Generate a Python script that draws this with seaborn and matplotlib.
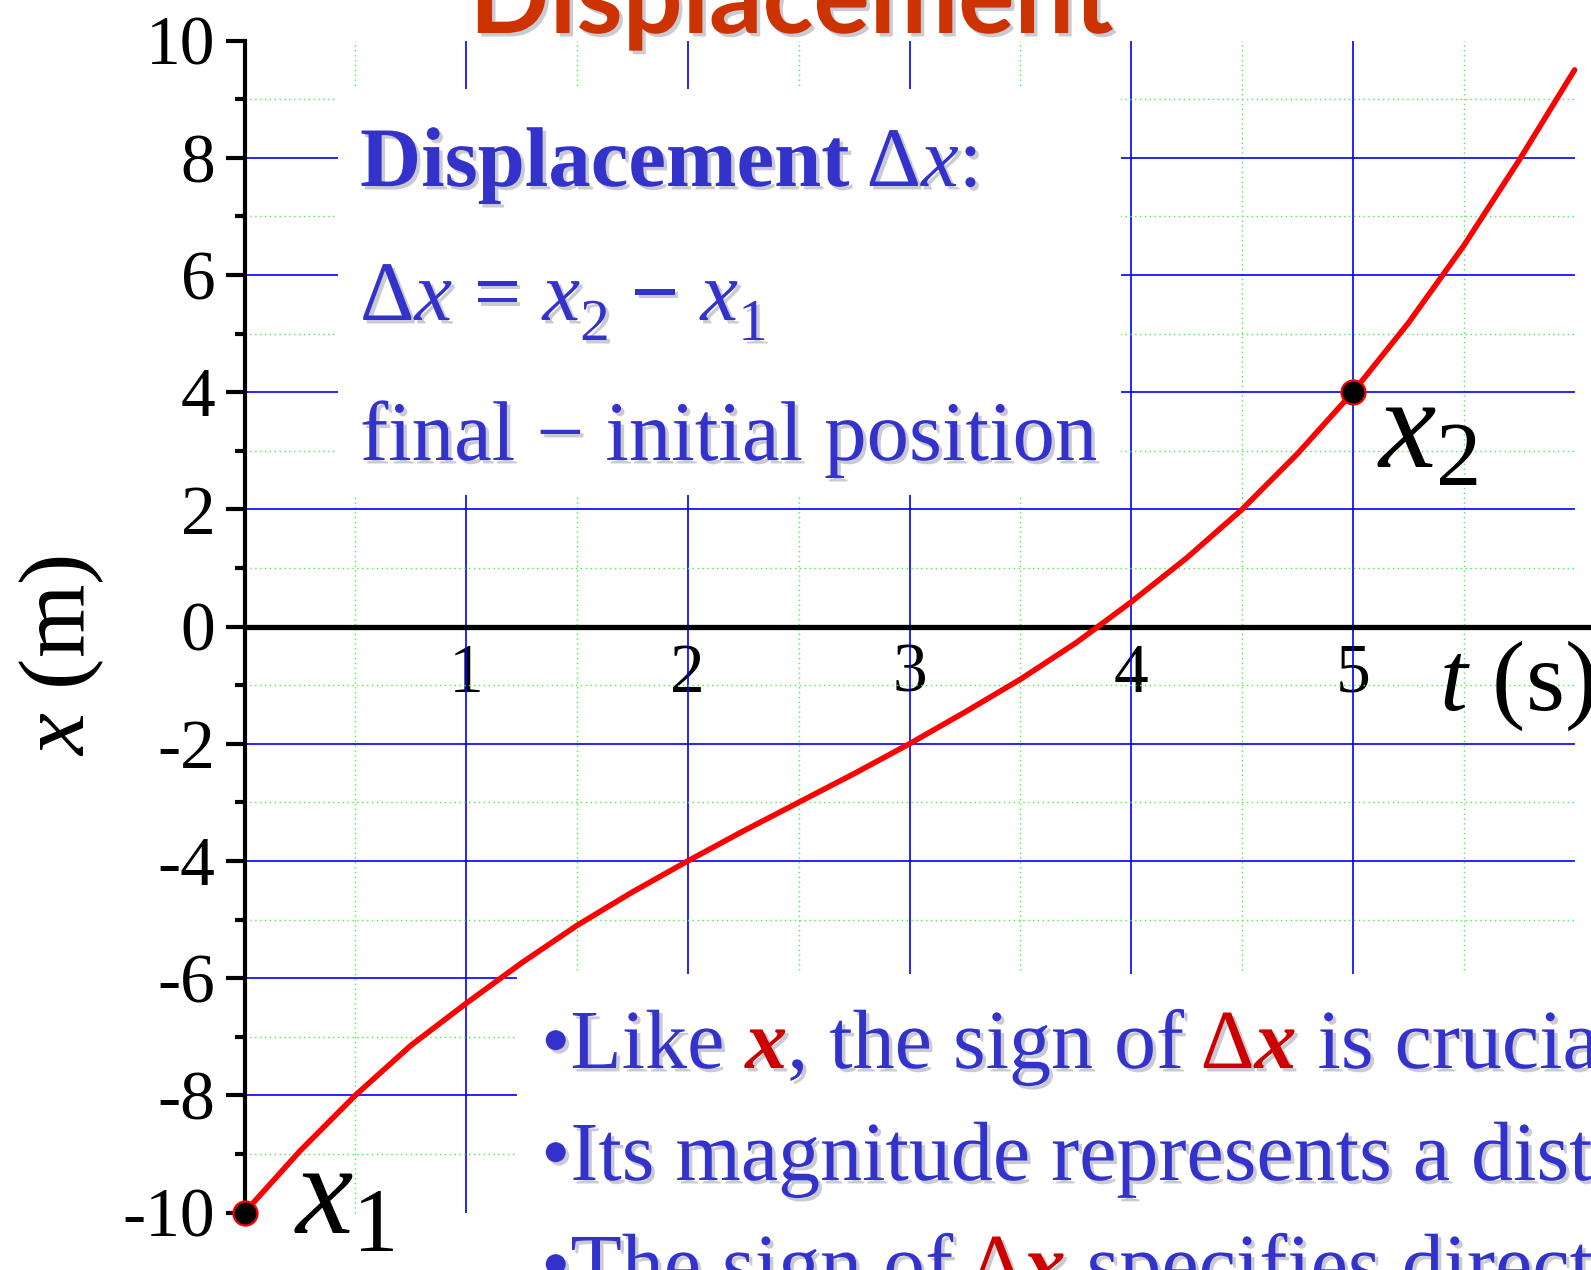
import matplotlib
matplotlib.use("Agg")
import matplotlib.pyplot as plt
import seaborn as sns
import pandas as pd
from matplotlib import patheffects as pe
from matplotlib.patches import Rectangle

# ---- data: position x (m) against time t (s) ----
t_s = [0.0, 0.25, 0.5, 0.75, 1.0, 1.25, 1.5, 1.75, 2.0, 2.25, 2.5, 2.75, 3.0,
       3.25, 3.5, 3.75, 4.0, 4.25, 4.5, 4.75, 5.0, 5.25, 5.5, 5.75, 6.0]
x_m = [-10.0, -8.95, -8.0, -7.15, -6.43, -5.74, -5.1, -4.53, -4.0, -3.49,
       -3.0, -2.51, -2.0, -1.46, -0.9, -0.28, 0.42, 1.17, 2.0, 2.95, 4.0,
       5.18, 6.5, 7.96, 9.5]
marked_t = [0.0, 5.0]
marked_x = [-10.0, 4.0]
marked_names = [r"$x_1$", r"$x_2$"]

x_ticks = [1, 2, 3, 4, 5]
x_tick_labels = ["1", "2", "3", "4", "5"]
y_ticks = [-10, -8, -6, -4, -2, 0, 2, 4, 6, 8, 10]
y_tick_labels = ["-10", "-8", "-6", "-4", "-2", "0", "2", "4", "6", "8", "10"]
y_minor_ticks = [-9, -7, -5, -3, -1, 1, 3, 5, 7, 9]
grid_t_major = [1, 2, 3, 4, 5]
grid_t_minor = [0.5, 1.5, 2.5, 3.5, 4.5, 5.5]
grid_x_major = [-8, -6, -4, -2, 2, 4, 6, 8]
grid_x_minor = [-9, -7, -5, -3, -1, 1, 3, 5, 7, 9]

# ---- style ----
sns.set_theme(style="white")
plt.rcParams["font.family"] = ["Liberation Serif", "DejaVu Serif"]
plt.rcParams["mathtext.fontset"] = "custom"
plt.rcParams["mathtext.rm"] = "Liberation Serif"
plt.rcParams["mathtext.it"] = "Liberation Serif:italic"
plt.rcParams["mathtext.bf"] = "Liberation Serif:bold"
plt.rcParams["axes.unicode_minus"] = False

BLUE_TXT = "#3333CC"
RED_TXT = "#CC0000"
TITLE_C = "#CC3300"
GRID_BLUE = "#0000FF"
GRID_GREEN = "#44EE44"

W, H, DPI = 1591, 1270, 100
fig = plt.figure(figsize=(W / DPI, H / DPI), dpi=DPI)
fig.patch.set_facecolor("white")
ax = fig.add_axes([0, 0, 1, 1])
ax.set_facecolor("white")
ax.set_xlim(-1.103, 6.074)
ax.set_ylim(-10.981, 10.693)

# grid
ax.vlines(grid_t_major, -10, 10, color=GRID_BLUE, lw=1.2, zorder=1)
ax.vlines(grid_t_minor, -10, 10, color=GRID_GREEN, lw=1.0,
          linestyles=(0, (1, 2.5)), zorder=1)
ax.hlines(grid_x_major, 0, 6, color=GRID_BLUE, lw=1.2, zorder=1)
ax.hlines(grid_x_minor, 0, 6, color=GRID_GREEN, lw=1.0,
          linestyles=(0, (1, 2.5)), zorder=1)

# white panels behind the text blocks
ax.add_patch(Rectangle((0.42, 2.24), 3.535, 6.93, fc="white", ec="none", zorder=2))
ax.add_patch(Rectangle((1.23, -12.0), 6.0, 6.07, fc="white", ec="none", zorder=2))

# curve and marked points
df = pd.DataFrame({"t": t_s, "x": x_m})
sns.lineplot(data=df, x="t", y="x", ax=ax, color="#FF0000", lw=4.0,
             sort=False, zorder=4, legend=False,
             solid_joinstyle="round", solid_capstyle="round")
sns.scatterplot(x=marked_t, y=marked_x, ax=ax, s=300, color="black",
                edgecolor="#FF0000", linewidth=1.6, zorder=6, legend=False)

# axes lines
for s in ["top", "right"]:
    ax.spines[s].set_visible(False)
ax.spines["left"].set_position(("data", 0))
ax.spines["left"].set_bounds(-10, 10)
ax.spines["left"].set_linewidth(3.0)
ax.spines["left"].set_color("black")
ax.spines["left"].set_zorder(3)
ax.spines["bottom"].set_position(("data", 0))
ax.spines["bottom"].set_bounds(0, 6.074)
ax.spines["bottom"].set_linewidth(3.8)
ax.spines["bottom"].set_color("black")
ax.spines["bottom"].set_zorder(3)

ax.set_yticks(y_ticks, y_tick_labels)
ax.set_yticks(y_minor_ticks, minor=True)
ax.set_xticks(x_ticks, x_tick_labels)
ax.tick_params(axis="y", which="major", left=True, direction="out",
               length=14, width=3, labelsize=50, pad=7, colors="black")
ax.tick_params(axis="y", which="minor", left=True, direction="out",
               length=7, width=3, colors="black")
ax.tick_params(axis="x", which="major", bottom=True, length=0,
               labelsize=50, pad=12, colors="black")
ax.set_xlabel("")
ax.set_ylabel("")

shadow = [pe.withSimplePatchShadow(offset=(2.5, -2.5),
                                   shadow_rgbFace="#8a8aa0", alpha=0.45)]


def fxy(px, py):
    return px / W, 1 - py / H


renderer = fig.canvas.get_renderer()


def draw_runs(px, py, runs, size):
    """Lay out styled pieces of text one after another on a shared baseline."""
    x = px
    for run in runs:
        text, color, style, weight = run[:4]
        scale = run[4] if len(run) > 4 else 1.0
        dy = run[5] if len(run) > 5 else 0.0
        t = fig.text(*fxy(x, py + dy), text, color=color, fontsize=size * scale,
                     fontstyle=style, fontweight=weight, ha="left",
                     va="baseline", path_effects=shadow, zorder=7)
        x = t.get_window_extent(renderer).x1


# title
fig.text(*fxy(791, 33), "Displacement", color=TITLE_C, fontsize=76,
         fontweight="bold", family="Lato", ha="center", va="baseline",
         path_effects=shadow)

# definition block
draw_runs(360, 186, [("Displacement", BLUE_TXT, "normal", "bold"),
                     (" \u0394", BLUE_TXT, "normal", "normal"),
                     ("x", BLUE_TXT, "italic", "normal"),
                     (":", BLUE_TXT, "normal", "normal")], 61)
draw_runs(360, 320, [("\u0394", BLUE_TXT, "normal", "normal"),
                     ("x", BLUE_TXT, "italic", "normal"),
                     (" = ", BLUE_TXT, "normal", "normal"),
                     ("x", BLUE_TXT, "italic", "normal"),
                     ("2", BLUE_TXT, "normal", "normal", 0.7, 20),
                     (" \u2212", BLUE_TXT, "normal", "bold"),
                     (" x", BLUE_TXT, "italic", "normal"),
                     ("1", BLUE_TXT, "normal", "normal", 0.7, 20)], 61)
draw_runs(360, 460, [("final \u2212 initial position", BLUE_TXT, "normal",
                      "normal")], 61)

# bullet notes
draw_runs(541, 1068, [("\u2022Like", BLUE_TXT, "normal", "normal"),
                      (" x", RED_TXT, "italic", "bold"),
                      (", the sign of", BLUE_TXT, "normal", "normal"),
                      (" \u0394", RED_TXT, "normal", "normal"),
                      ("x", RED_TXT, "italic", "bold"),
                      (" is crucial", BLUE_TXT, "normal", "normal")], 60.5)
draw_runs(541, 1180, [("\u2022Its magnitude represents a distance",
                       BLUE_TXT, "normal", "normal")], 60.5)
draw_runs(541, 1292, [("\u2022The sign of", BLUE_TXT, "normal", "normal"),
                      (" \u0394", RED_TXT, "normal", "normal"),
                      ("x", RED_TXT, "italic", "bold"),
                      (" specifies direction", BLUE_TXT, "normal", "normal")], 60.5)

# axis labels
fig.text(*fxy(62, 656), r"$x$ (m)", rotation=90, fontsize=68, color="black",
         ha="center", va="center")
fig.text(*fxy(1439, 710), r"$t$ (s)", fontsize=72, color="black",
         ha="left", va="baseline")

# point labels
fig.text(*fxy(294, 1233), marked_names[0], fontsize=93, color="black",
         ha="left", va="baseline")
fig.text(*fxy(1377, 467), marked_names[1], fontsize=93, color="black",
         ha="left", va="baseline")

fig.savefig("out.png", dpi=DPI, facecolor="white")
